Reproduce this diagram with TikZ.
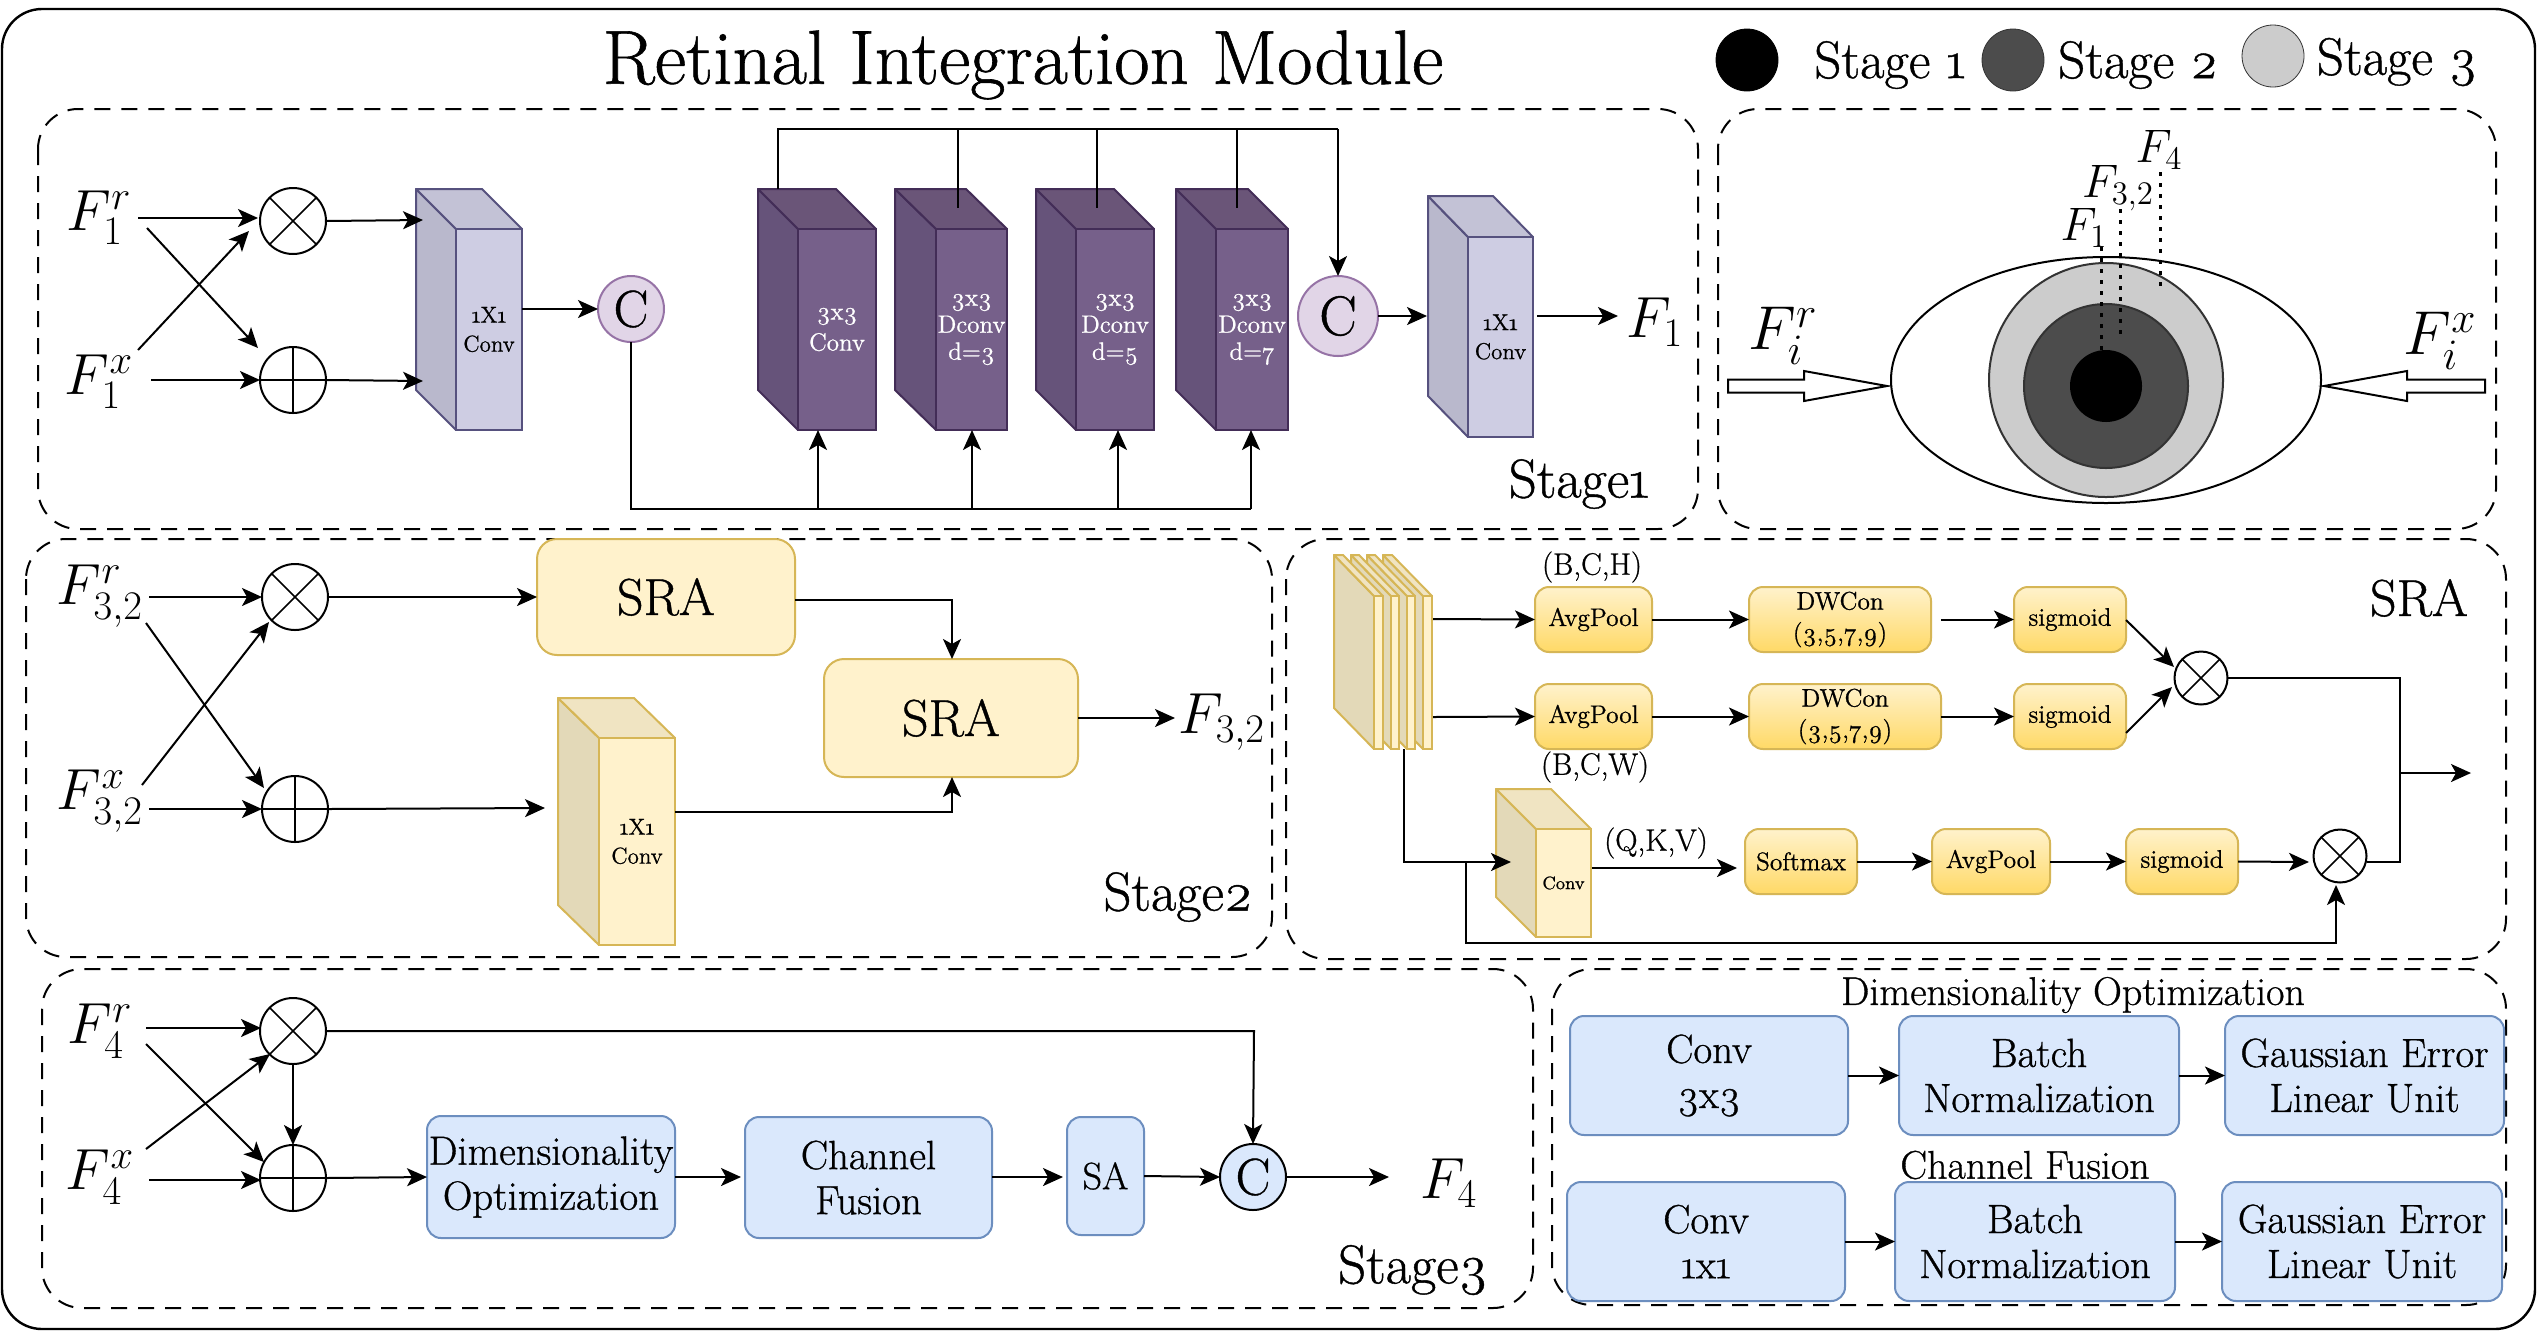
\RequirePackage{fix-cm}
\documentclass[tikz,border=0pt]{standalone}
\usepackage{fontspec}
\setmainfont{Latin Modern Roman}[Numbers=OldStyle,FakeBold=0.8]
\usetikzlibrary{arrows.meta,calc,shapes.geometric}

% palette
\definecolor{pvfront}{HTML}{76608A}
\definecolor{pvtop}{HTML}{6A5578}
\definecolor{pvside}{HTML}{66537A}
\definecolor{pvedge}{HTML}{432D57}
\definecolor{lvfront}{HTML}{CECDE3}
\definecolor{lvtop}{HTML}{C3C2D6}
\definecolor{lvside}{HTML}{B9B8CC}
\definecolor{lvedge}{HTML}{56517E}
\definecolor{yefront}{HTML}{FFF2CC}
\definecolor{yetop}{HTML}{F0E4C2}
\definecolor{yeside}{HTML}{E3D9B8}
\definecolor{yeedge}{HTML}{D6B656}
\definecolor{blfill}{HTML}{DAE8FC}
\definecolor{bledge}{HTML}{6C8EBF}
\definecolor{cfill}{HTML}{E1D5E7}
\definecolor{cedge}{HTML}{9673A6}
\definecolor{golddeep}{HTML}{FFD966}

\newcommand{\fsz}[1]{\fontsize{#1}{#1}\selectfont}

\tikzset{
  conn/.style={line width=1pt,black},
  arr/.style={conn,-{Stealth[length=10pt,width=9pt,inset=2.5pt]}},
  zone/.style={line width=1pt,dash pattern=on 8pt off 5.5pt,rounded corners=20pt},
  mul/.style={circle,draw,line width=1pt,fill=white,inner sep=0pt,outer sep=0pt,
    path picture={\draw[line width=.8pt]
      (path picture bounding box.south west)--(path picture bounding box.north east)
      (path picture bounding box.north west)--(path picture bounding box.south east);}},
  plusop/.style={circle,draw,line width=1pt,fill=white,inner sep=0pt,outer sep=0pt,
    path picture={\draw[line width=.8pt]
      (path picture bounding box.north)--(path picture bounding box.south)
      (path picture bounding box.west)--(path picture bounding box.east);}},
  catnode/.style={circle,draw,line width=1pt,inner sep=0pt,outer sep=0pt,font=\fsz{26}},
  lab/.style={inner sep=0pt,outer sep=0pt},
  mathlab/.style={lab,font=\fsz{29}},
  mathsmall/.style={lab,font=\fsz{23.5}},
  yelbox/.style={draw=yeedge,fill=yefront,line width=1pt,rounded corners=10pt,inner sep=0pt,outer sep=0pt,font=\fsz{26}},
  goldbox/.style={draw=yeedge,line width=1pt,rounded corners=7pt,top color=yefront,bottom color=golddeep,
    inner sep=0pt,outer sep=0pt,align=center,font=\fontsize{12.7}{12.7}\selectfont},
  bluebox/.style={draw=bledge,fill=blfill,line width=1pt,rounded corners=7pt,inner sep=0pt,outer sep=0pt,
    align=center,font=\fontsize{20.4}{22.5}\selectfont},
  dottedrule/.style={line width=1.5pt,dash pattern=on 2.2pt off 3.3pt},
}

% rectangular node given by its corners: style, name, x1, y1, x2, y2, text
\newcommand{\cornerbox}[7]{%
  \node[#1,minimum width={(#5-#3)*0.5pt},minimum height={(#6-#4)*0.5pt}] (#2)
    at ({(#3+#5)/2},{(#4+#6)/2}) {#7};}

% cuboid: name, left, front-left, right, top, front-top, bottom, colour family, text
\newcommand{\cuboid}[9]{%
  \draw[line width=1pt,draw=#8edge,fill=#8side,line join=round]
    (#2,#5) -- (#3,#6) -- (#3,#7) -- (#2,{#7-(#6-#5)}) -- cycle;
  \draw[line width=1pt,draw=#8edge,fill=#8top,line join=round]
    (#2,#5) -- ({#2+#4-#3},#5) -- (#4,#6) -- (#3,#6) -- cycle;
  \node[draw=#8edge,fill=#8front,line width=1pt,inner sep=0pt,outer sep=0pt,align=center,
    minimum width={(#4-#3)*0.5pt},minimum height={(#7-#6)*0.5pt}] (#1)
    at ({(#3+#4)/2},{(#6+#7)/2}) {#9};}

% two- and three-line cuboid captions; every line sets its own size and colour
\newcommand{\convcap}[2]{\fsz{11.5}#1\\[2.5pt]\fsz{11.5}#2}
\newcommand{\wln}{\color{white}\fsz{12.5}}
\newcommand{\dilcap}[1]{\wln 3x3\\[1.5pt]\wln Dconv\\[1.5pt]\wln d=#1}

\begin{document}
\begin{tikzpicture}[x=0.5pt,y=-0.5pt]
\useasboundingbox (0,0) rectangle (2538,1330);
\fill[white] (0,0) rectangle (2538,1330);

% outer frame and dashed zones
\draw[line width=1.2pt,rounded corners=20pt] (2,9) rectangle (2535,1329);
\draw[zone] (38,109) rectangle (1698,529);
\draw[zone] (1718,109) rectangle (2496,529);
\draw[zone] (26,539) rectangle (1272,957);
\draw[zone] (1286,539) rectangle (2506,959);
\draw[zone] (42,969) rectangle (1533,1308);
\draw[zone] (1552,969) rectangle (2506,1305);

% heading and legend
\node[lab,font=\fsz{38.4}] (title) at (1023,65) {Retinal Integration Module};
\node[circle,fill=black,draw=black,minimum size=31pt,inner sep=0pt] (leg1) at (1747,60) {};
\node[lab,font=\fsz{26.5}] (leg1t) at (1890,65) {Stage 1};
\node[circle,fill=black!70,draw=black!80,minimum size=31pt,inner sep=0pt] (leg2) at (2013,60) {};
\node[lab,font=\fsz{26.5}] (leg2t) at (2138,65) {Stage 2};
\node[circle,fill=black!20,draw=black!80,minimum size=31pt,inner sep=0pt] (leg3) at (2273,56) {};
\node[lab,font=\fsz{26.5}] (leg3t) at (2397,62) {Stage 3};

% ---------- Stage 1 ----------
\node[mathlab] (fr1) at (99,218) {$F_1^r$};
\node[mathlab] (fx1) at (99,382) {$F_1^x$};
\node[mul,minimum size=33pt] (m1) at (293,221) {};
\node[plusop,minimum size=33pt] (p1) at (293,380) {};
\coordinate (fr1a) at (138,218);
\coordinate (fr1b) at (147,228);
\coordinate (fx1a) at (138,350);
\coordinate (fx1b) at (151,380);
\draw[arr] (fr1a) -- (258,218);
\draw[arr] (fr1b) -- (258,348);
\draw[arr] (fx1a) -- (249,231);
\draw[arr] (fx1b) -- (p1.west);

\cuboid{c1}{416}{456}{522}{189}{229}{430}{lv}{\convcap{1X1}{Conv}}
\draw[arr] (m1.east) -- (423,220);
\draw[arr] (p1.east) -- (423,381);
\node[catnode,minimum size=33pt,fill=cfill,draw=cedge] (ca) at (631,309) {C};
\draw[arr] (c1.east |- ca) -- (ca.west);

\cuboid{d1}{758}{798}{876}{189}{229}{430}{pv}{\wln 3x3\\[3.5pt]\wln Conv}
\cuboid{d2}{895}{936}{1007}{189}{229}{430}{pv}{\dilcap{3}}
\cuboid{d3}{1036}{1076}{1154}{189}{229}{430}{pv}{\dilcap{5}}
\cuboid{d4}{1176}{1216}{1288}{189}{229}{430}{pv}{\dilcap{7}}

\node[catnode,minimum size=40pt,fill=cfill,draw=cedge,font=\fsz{28}] (cb) at (1338,316) {C};
\cuboid{c2}{1428}{1468}{1533}{196}{237}{437}{lv}{\convcap{1X1}{Conv}}
\node[mathlab] (f1) at (1655,322) {$F_1$};
\coordinate (c2out) at (1537,316);
\draw[arr] (cb.east) -- (1427,316);
\draw[arr] (c2out) -- (1618,316);

% feedback bus over the dilated blocks
\coordinate (busL) at (778,129);
\coordinate (busR) at (1338,129);
\draw[conn] (778,189) -- (busL) -- (busR);
\draw[arr] (busR) -- (cb.north);
\draw[conn] (958,129) -- (958,208);
\draw[conn] (1097,129) -- (1097,208);
\draw[conn] (1237,129) -- (1237,208);

% input bus under the blocks
\coordinate (busB) at (631,509);
\draw[conn] (ca.south) -- (busB) -- (1251,509);
\draw[arr] (1251,509) -- (1251,430);
\draw[arr] (818,509) -- (818,430);
\draw[arr] (972,509) -- (972,430);
\draw[arr] (1118,509) -- (1118,430);

\node[lab,font=\fsz{27.5}] (s1) at (1579,484) {Stage1};

% ---------- eye schematic ----------
\node[ellipse,draw,line width=1pt,minimum width=215pt,minimum height=123pt,inner sep=0pt,outer sep=0pt] (eye) at (2106,380) {};
\node[circle,draw=black!80,fill=black!20,line width=1pt,minimum size=117pt,inner sep=0pt] (r3) at (2106,380) {};
\node[circle,draw=black!80,fill=black!70,line width=1pt,minimum size=82pt,inner sep=0pt] (r2) at (2106,386) {};
\node[circle,fill=black,minimum size=36pt,inner sep=0pt] (r1) at (2106,386) {};
\draw[dottedrule] (2101,247) -- (2101,350);
\draw[dottedrule] (2120,209) -- (2120,336);
\draw[dottedrule] (2160,172) -- (2160,291);
\node[mathsmall] (e4) at (2159,150) {$F_4$};
\node[mathsmall] (e3) at (2118,188) {$F_{3,2}$};
\node[mathsmall] (e1) at (2084,228) {$F_1$};
\node[mathlab,font=\fsz{31}] (eir) at (1783,336) {$F_i^r$};
\node[mathlab,font=\fsz{31}] (eix) at (2440,341) {$F_i^x$};
\draw[line width=1pt,fill=white,line join=miter]
  (1728,379.5) -- (1804,379.5) -- (1804,371) -- (1887,386) -- (1804,401) -- (1804,392.5) -- (1728,392.5) -- cycle;
\draw[line width=1pt,fill=white,line join=miter]
  (2485,379.5) -- (2407,379.5) -- (2407,371) -- (2324,386) -- (2407,401) -- (2407,392.5) -- (2485,392.5) -- cycle;

% ---------- Stage 2 ----------
\node[mathlab] (fr3) at (100,596) {$F_{3,2}^r$};
\node[mathlab] (fx3) at (100,801) {$F_{3,2}^x$};
\node[mul,minimum size=33pt] (m3) at (295,597) {};
\node[plusop,minimum size=33pt] (p3) at (295,809) {};
\coordinate (fr3a) at (149,597);
\coordinate (fr3b) at (146,623);
\coordinate (fx3a) at (142,785);
\coordinate (fx3b) at (149,809);
\draw[arr] (fr3a) -- (m3.west);
\draw[arr] (fr3b) -- (264,788);
\draw[arr] (fx3a) -- (269,622);
\draw[arr] (fx3b) -- (p3.west);
\cornerbox{yelbox}{sra1}{537}{539}{795}{655}{SRA}
\cornerbox{yelbox}{sra2}{824}{659}{1078}{777}{SRA}
\draw[arr] (m3.east) -- (537,597);
\draw[arr] (795,600) -- (952,600) -- (952,659);
\cuboid{c3}{558}{599}{675}{698}{738}{945}{ye}{\convcap{1X1}{Conv}}
\draw[arr] (p3.east) -- (545,808);
\draw[arr] (675,812) -- (952,812) -- (952,777);
\node[mathlab] (f3) at (1222,722) {$F_{3,2}$};
\draw[arr] (1078,718) -- (1175,718);
\node[lab,font=\fsz{27.5}] (s2) at (1178,897) {Stage2};

% ---------- SRA detail ----------
% page stack, painted back to front
\cuboid{pg3}{1383}{1423}{1432}{555}{596}{749}{ye}{}
\cuboid{pg2}{1367}{1407}{1415}{555}{596}{749}{ye}{}
\cuboid{pg1}{1351}{1391}{1399}{555}{596}{749}{ye}{}
\cuboid{pg0}{1334}{1374}{1383}{555}{596}{749}{ye}{}
\cornerbox{goldbox}{ap1}{1535}{587}{1652}{652}{AvgPool}
\cornerbox{goldbox}{ap2}{1535}{684}{1652}{749}{AvgPool}
\cornerbox{goldbox}{dw1}{1749}{587}{1931}{652}{DWCon\\[3pt](3,5,7,9)}
\cornerbox{goldbox}{dw2}{1749}{684}{1941}{749}{DWCon\\[3pt](3,5,7,9)}
\cornerbox{goldbox}{sg1}{2014}{587}{2126}{652}{sigmoid}
\cornerbox{goldbox}{sg2}{2014}{684}{2126}{749}{sigmoid}
\node[lab,font=\fsz{15.5}] (bch) at (1592,567) {(B,C,H)};
\node[lab,font=\fsz{15.5}] (bcw) at (1595,767) {(B,C,W)};
\node[mul,minimum size=26.5pt] (m4) at (2201,678) {};
\draw[arr] (1433,619) -- (ap1.west);
\draw[arr] (1433,717) -- (ap2.west);
\draw[arr] (ap1.east) -- (dw1.west);
\draw[arr] (ap2.east) -- (dw2.west);
\draw[arr] (1941,619.5) -- (sg1.west);
\draw[arr] (dw2.east) -- (sg2.west);
\draw[arr] (2126,620) -- (2174,667);
\draw[arr] (2126,733) -- (2172,687);

\cuboid{cv}{1496}{1536}{1591}{789}{829}{937}{ye}{\fsz{9}Conv}
\cornerbox{goldbox}{sm}{1745}{829}{1857}{894}{Softmax}
\cornerbox{goldbox}{ap3}{1932}{829}{2050}{894}{AvgPool}
\cornerbox{goldbox}{sg3}{2126}{829}{2238}{894}{sigmoid}
\node[lab,font=\fsz{15.5}] (qkv) at (1656,843) {(Q,K,V)};
\node[mul,minimum size=26.5pt] (m5) at (2340,856) {};
\draw[arr] (1404,749) -- (1404,862) -- (1511,862);
\draw[arr] (1466,862) -- (1466,943) -- (2336,943) -- (2336,885);
\draw[arr] (1592,868) -- (1737,868);
\draw[arr] (sm.east) -- (ap3.west);
\draw[arr] (ap3.east) -- (sg3.west);
\draw[arr] (sg3.east) -- (2309,862);
\draw[conn] (m4.east) -- (2400,678) -- (2400,862) -- (2367,862);
\draw[arr] (2400,773) -- (2471,773);
\node[lab,font=\fsz{26}] (srat) at (2419,598) {SRA};

% ---------- Stage 3 ----------
\node[mathlab] (fr4) at (100,1031) {$F_4^r$};
\node[mathlab] (fx4) at (100,1177) {$F_4^x$};
\node[mul,minimum size=33pt] (m6) at (293,1031) {};
\node[plusop,minimum size=33pt] (p6) at (293,1178) {};
\draw[arr] (146,1028) -- (261,1028);
\draw[arr] (146,1044) -- (264,1162);
\draw[arr] (146,1149) -- (270,1054);
\draw[arr] (149,1180) -- (261,1180);
\draw[arr] (m6.south) -- (p6.north);
\cornerbox{bluebox}{dim}{427}{1116}{675}{1238}{Dimensionality\\Optimization}
\cornerbox{bluebox}{cf}{745}{1117}{992}{1238}{Channel\\Fusion}
\cornerbox{bluebox}{sa}{1067}{1117}{1144}{1235}{\fsz{19}SA}
\node[catnode,minimum size=33pt,fill=blfill,draw=black] (cc) at (1253,1177) {C};
\node[mathlab] (f4) at (1449,1183) {$F_4$};
\draw[arr] (m6.east) -- (1254,1031) -- (cc.north);
\draw[arr] (p6.east) -- (dim.west);
\draw[arr] (dim.east) -- (741,1177);
\draw[arr] (992,1177) -- (1063,1177);
\draw[arr] (sa.east) -- (cc.west);
\draw[arr] (cc.east) -- (1389,1177);
\node[lab,font=\fsz{27.5}] (s3) at (1413,1270) {Stage3};

% ---------- block breakdowns ----------
\node[lab,font=\fsz{20}] (dot) at (2073,995) {Dimensionality Optimization};
\node[lab,font=\fsz{20}] (cft) at (2025,1165) {Channel Fusion};
\cornerbox{bluebox}{r1a}{1570}{1016}{1848}{1135}{Conv\\3x3}
\cornerbox{bluebox}{r1b}{1899}{1016}{2179}{1135}{Batch\\Normalization}
\cornerbox{bluebox}{r1c}{2225}{1016}{2504}{1135}{Gaussian Error\\Linear Unit}
\cornerbox{bluebox}{r2a}{1567}{1182}{1845}{1301}{Conv\\1x1}
\cornerbox{bluebox}{r2b}{1895}{1182}{2175}{1301}{Batch\\Normalization}
\cornerbox{bluebox}{r2c}{2222}{1182}{2502}{1301}{Gaussian Error\\Linear Unit}
\draw[arr] (r1a.east) -- (r1b.west);
\draw[arr] (r1b.east) -- (r1c.west);
\draw[arr] (r2a.east) -- (r2b.west);
\draw[arr] (r2b.east) -- (r2c.west);
\end{tikzpicture}
\end{document}
